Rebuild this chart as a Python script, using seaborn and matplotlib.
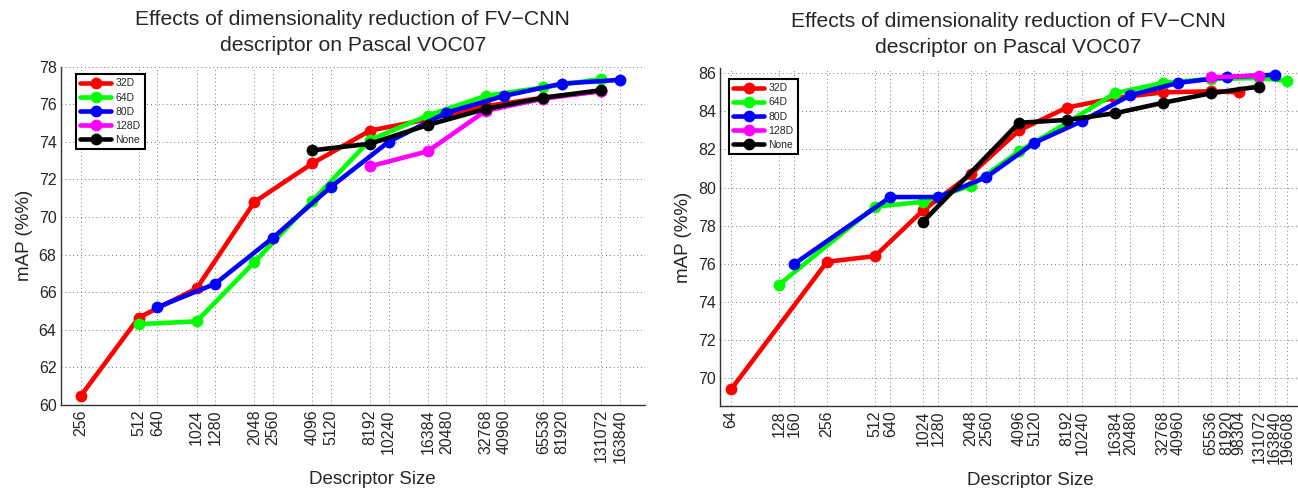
import numpy as np
import pandas as pd
import matplotlib
matplotlib.use("Agg")
import matplotlib.pyplot as plt
from matplotlib.lines import Line2D
import seaborn as sns

# ---------------- data ----------------
series_names = ["32D", "64D", "80D", "128D", "None"]
series_colors = ["#ff0000", "#00ff00", "#0000ff", "#ff00ff", "#000000"]

# Left panel
left_32_x = [256, 512, 1024, 2048, 4096, 8192, 16384, 32768, 65536, 131072]
left_32_y = [60.5, 64.65, 66.2, 70.8, 72.85, 74.6, 75.2, 75.9, 76.35, 76.7]
left_64_x = [512, 1024, 2048, 4096, 8192, 16384, 32768, 65536, 131072]
left_64_y = [64.3, 64.45, 67.6, 70.85, 74.1, 75.4, 76.45, 76.9, 77.35]
left_80_x = [640, 1280, 2560, 5120, 10240, 20480, 40960, 81920, 163840]
left_80_y = [65.2, 66.45, 68.9, 71.6, 74.0, 75.55, 76.45, 77.1, 77.3]
left_128_x = [8192, 16384, 32768, 65536, 131072]
left_128_y = [72.7, 73.5, 75.65, 76.3, 76.7]
left_none_x = [4096, 8192, 16384, 32768, 65536, 131072]
left_none_y = [73.55, 73.9, 74.9, 75.75, 76.35, 76.75]
left_xticks = [256, 512, 640, 1024, 1280, 2048, 2560, 4096, 5120, 8192, 10240,
               16384, 20480, 32768, 40960, 65536, 81920, 131072, 163840]
left_yticks = [60, 62, 64, 66, 68, 70, 72, 74, 76, 78]

# Right panel
right_32_x = [64, 256, 512, 1024, 2048, 4096, 8192, 16384, 32768, 65536, 98304]
right_32_y = [69.4, 76.1, 76.4, 78.8, 80.7, 83.0, 84.2, 84.7, 85.0, 85.05, 85.0]
right_64_x = [128, 512, 1024, 2048, 4096, 8192, 16384, 32768, 65536, 131072, 196608]
right_64_y = [74.9, 79.0, 79.25, 80.1, 81.9, 83.4, 84.95, 85.5, 85.7, 85.75, 85.6]
right_80_x = [160, 640, 1280, 2560, 5120, 10240, 20480, 40960, 81920, 163840]
right_80_y = [76.0, 79.5, 79.5, 80.55, 82.35, 83.5, 84.85, 85.5, 85.8, 85.92]
right_128_x = [65536, 131072]
right_128_y = [85.78, 85.88]
right_none_x = [1024, 4096, 8192, 16384, 32768, 65536, 131072]
right_none_y = [78.2, 83.4, 83.55, 83.9, 84.45, 84.95, 85.3]
right_xticks = [64, 128, 160, 256, 512, 640, 1024, 1280, 2048, 2560, 4096, 5120,
                8192, 10240, 16384, 20480, 32768, 40960, 65536, 81920, 98304,
                131072, 163840, 196608]
right_yticks = [70, 72, 74, 76, 78, 80, 82, 84, 86]

title_text = "Effects of dimensionality reduction of FV\u2212CNN\ndescriptor on Pascal VOC07"
xlabel_text = "Descriptor Size"
ylabel_text = "mAP (%%)"


def make_df(xs, ys):
    frames = []
    for name, x, y in zip(series_names, xs, ys):
        frames.append(pd.DataFrame({"size": x, "map": y, "series": name}))
    return pd.concat(frames, ignore_index=True)


left_df = make_df([left_32_x, left_64_x, left_80_x, left_128_x, left_none_x],
                  [left_32_y, left_64_y, left_80_y, left_128_y, left_none_y])
right_df = make_df([right_32_x, right_64_x, right_80_x, right_128_x, right_none_x],
                   [right_32_y, right_64_y, right_80_y, right_128_y, right_none_y])

# ---------------- style ----------------
sns.set_style("white")
plt.rcParams["font.family"] = ["Liberation Sans", "DejaVu Sans"]
plt.rcParams["axes.unicode_minus"] = True

fig = plt.figure(figsize=(12.98, 4.88), dpi=100)
ax_l = fig.add_axes([60.7 / 1298, (488 - 405) / 488, (645 - 60.7) / 1298, (405 - 66.7) / 488])
ax_r = fig.add_axes([720 / 1298, (488 - 406) / 488, (1297 - 720) / 1298, (406 - 68.3) / 488])

palette = dict(zip(series_names, series_colors))


def draw(ax, df, xticks, yticks, xlim, ylim, leg_anchor, xlabel_x):
    ax.set_xscale("log", base=2)
    sns.lineplot(data=df, x="size", y="map", hue="series", hue_order=series_names,
                 palette=palette, marker="o", markersize=8.5, markeredgewidth=0,
                 linewidth=3.3, sort=False, estimator=None, legend=False, ax=ax)
    ax.set_xlim(*xlim)
    ax.set_ylim(*ylim)
    ax.set_xticks(xticks)
    ax.set_xticklabels([str(t) for t in xticks], rotation=90, fontsize=11.5)
    ax.xaxis.set_minor_locator(matplotlib.ticker.NullLocator())
    ax.set_yticks(yticks)
    ax.set_yticklabels([str(t) for t in yticks], fontsize=11.5)
    ax.tick_params(axis="both", direction="in", length=4, width=0.8, color="#333333",
                   pad=3)
    ax.grid(True, which="major", linestyle=(0, (1, 3)), color="#777777", linewidth=0.7)
    for s in ["top", "right"]:
        ax.spines[s].set_visible(False)
    for s in ["left", "bottom"]:
        ax.spines[s].set_color("#333333")
        ax.spines[s].set_linewidth(1.0)
    ax.set_xlabel(xlabel_text, fontsize=13.5)
    ax.xaxis.set_label_coords(xlabel_x, -0.195)
    ax.set_ylabel(ylabel_text, fontsize=13.5, labelpad=4)
    ax.set_title(title_text, fontsize=15.25, linespacing=1.5, pad=11)
    handles = [Line2D([0], [0], color=c, linewidth=3.3, marker="o", markersize=8.5,
                      markeredgewidth=0) for c in series_colors]
    leg = ax.legend(handles, series_names, loc="upper left", bbox_to_anchor=leg_anchor,
                    borderaxespad=0, fontsize=7.5, frameon=True, fancybox=False,
                    framealpha=1, edgecolor="black", handlelength=3.0,
                    handletextpad=0.4, labelspacing=0.4, borderpad=0.4)
    leg.get_frame().set_linewidth(1.5)


draw(ax_l, left_df, left_xticks, left_yticks, (200.7, 221700), (60, 78),
     (0.0257, 0.9775), 0.5 + 19 / 584)
draw(ax_r, right_df, right_xticks, right_yticks, (54.6, 226700), (68.53, 86.26),
     (0.0156, 0.968), 0.5 + 22 / 577)

fig.savefig("out.png", dpi=100)
